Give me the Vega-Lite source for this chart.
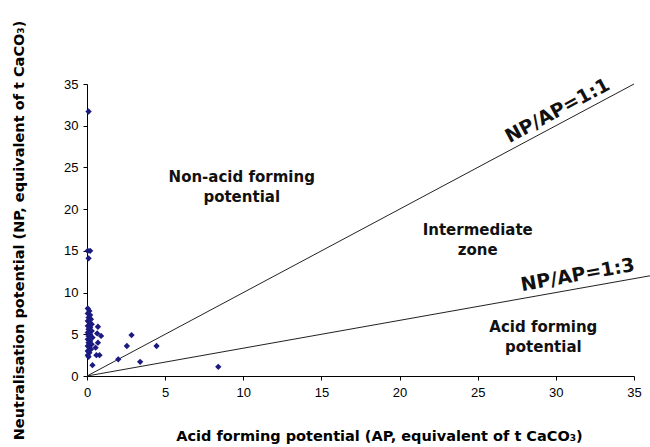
{
  "$schema": "https://vega.github.io/schema/vega-lite/v6.json",
  "autosize": "none",
  "width": 547,
  "height": 292,
  "padding": {"left": 87, "top": 84, "right": 16, "bottom": 71},
  "background": "white",
  "config": {
    "view": {"stroke": null},
    "font": "Liberation Sans",
    "axis": {"grid": false, "domainColor": "#000", "tickColor": "#000", "labelColor": "#000", "titleColor": "#000", "labelFont": "Liberation Sans", "titleFont": "DejaVu Sans", "labelFontSize": 13, "titleFontSize": 14.5, "titleFontWeight": "bold", "tickSize": 4, "domainWidth": 1}
  },
  "datasets": {
    "points": [
      {"AP": 0.1, "NP": 31.7},
      {"AP": 0.05, "NP": 15.0},
      {"AP": 0.2, "NP": 15.0},
      {"AP": 0.1, "NP": 14.1},
      {"AP": 0.05, "NP": 8.1},
      {"AP": 0.15, "NP": 7.8},
      {"AP": 0.05, "NP": 7.5},
      {"AP": 0.2, "NP": 7.3},
      {"AP": 0.1, "NP": 7.0},
      {"AP": 0.25, "NP": 6.8},
      {"AP": 0.05, "NP": 6.6},
      {"AP": 0.15, "NP": 6.4},
      {"AP": 0.3, "NP": 6.2},
      {"AP": 0.05, "NP": 6.0},
      {"AP": 0.2, "NP": 5.8},
      {"AP": 0.1, "NP": 5.6},
      {"AP": 0.3, "NP": 5.4},
      {"AP": 0.05, "NP": 5.2},
      {"AP": 0.2, "NP": 5.0},
      {"AP": 0.1, "NP": 4.8},
      {"AP": 0.35, "NP": 4.6},
      {"AP": 0.05, "NP": 4.4},
      {"AP": 0.2, "NP": 4.2},
      {"AP": 0.1, "NP": 4.0},
      {"AP": 0.3, "NP": 3.8},
      {"AP": 0.05, "NP": 3.6},
      {"AP": 0.15, "NP": 3.4},
      {"AP": 0.25, "NP": 3.2},
      {"AP": 0.05, "NP": 3.0},
      {"AP": 0.15, "NP": 2.8},
      {"AP": 0.05, "NP": 2.5},
      {"AP": 0.1, "NP": 2.3},
      {"AP": 0.7, "NP": 5.9},
      {"AP": 0.65, "NP": 5.1},
      {"AP": 0.9, "NP": 4.8},
      {"AP": 0.7, "NP": 4.0},
      {"AP": 0.55, "NP": 3.4},
      {"AP": 0.8, "NP": 2.5},
      {"AP": 0.6, "NP": 2.5},
      {"AP": 0.35, "NP": 1.3},
      {"AP": 2.85, "NP": 4.9},
      {"AP": 2.55, "NP": 3.6},
      {"AP": 2.0, "NP": 2.0},
      {"AP": 3.4, "NP": 1.7},
      {"AP": 4.45, "NP": 3.6},
      {"AP": 8.4, "NP": 1.1}
    ],
    "lines": [
      {"ratio": "1:1", "AP": 0, "NP": 0},
      {"ratio": "1:1", "AP": 35, "NP": 35},
      {"ratio": "1:3", "AP": 0, "NP": 0},
      {"ratio": "1:3", "AP": 36.5, "NP": 12.17}
    ],
    "zones": [
      {"AP": 9.9, "NP": 23.9, "label": ["Non-acid forming", "potential"]},
      {"AP": 25.0, "NP": 17.5, "label": ["Intermediate", "zone"]},
      {"AP": 29.2, "NP": 5.9, "label": ["Acid forming", "potential"]}
    ],
    "r11": [{"AP": 30.1, "NP": 31.8, "label": "NP/AP=1:1"}],
    "r13": [{"AP": 31.4, "NP": 12.1, "label": "NP/AP=1:3"}]
  },
  "encoding": {
    "x": {"field": "AP", "type": "quantitative", "scale": {"domain": [0, 35], "nice": false}, "axis": {"values": [0, 5, 10, 15, 20, 25, 30, 35], "title": "Acid forming potential (AP, equivalent of t CaCO₃)", "labelPadding": 6, "titlePadding": 30, "titleX": 292, "labelFlush": false}},
    "y": {"field": "NP", "type": "quantitative", "scale": {"domain": [0, 35], "nice": false}, "axis": {"values": [0, 5, 10, 15, 20, 25, 30, 35], "title": "Neutralisation potential (NP, equivalent of t CaCO₃)", "labelPadding": 5, "titlePadding": 37, "labelFlush": false}}
  },
  "layer": [
    {
      "data": {"name": "lines"},
      "mark": {"type": "line", "color": "#222", "strokeWidth": 1, "clip": false},
      "encoding": {"detail": {"field": "ratio"}}
    },
    {
      "data": {"name": "points"},
      "mark": {"type": "point", "shape": "diamond", "filled": true, "size": 40, "color": "#1a1a80", "opacity": 1}
    },
    {
      "data": {"name": "zones"},
      "mark": {"type": "text", "font": "DejaVu Sans", "fontSize": 15, "fontWeight": "bold", "align": "center", "baseline": "middle", "lineHeight": 20, "color": "#111"},
      "encoding": {"text": {"field": "label"}}
    },
    {
      "data": {"name": "r11"},
      "mark": {"type": "text", "font": "DejaVu Sans", "fontSize": 19, "fontWeight": "bold", "align": "center", "baseline": "middle", "angle": -28.3, "color": "#111"},
      "encoding": {"text": {"field": "label"}}
    },
    {
      "data": {"name": "r13"},
      "mark": {"type": "text", "font": "DejaVu Sans", "fontSize": 19, "fontWeight": "bold", "align": "center", "baseline": "middle", "angle": -10.2, "color": "#111"},
      "encoding": {"text": {"field": "label"}}
    }
  ]
}
